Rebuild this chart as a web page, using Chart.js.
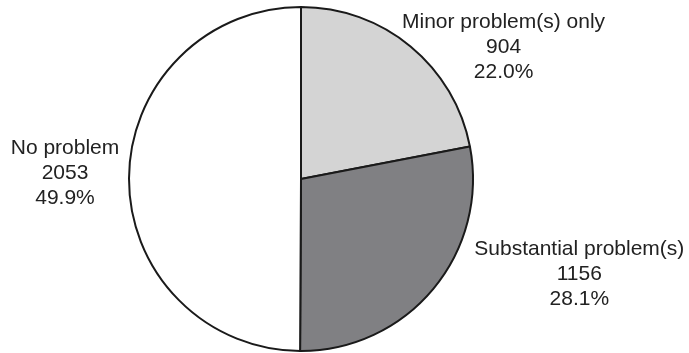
<!DOCTYPE html>
<html>
<head>
<meta charset="utf-8">
<script src="https://cdn.jsdelivr.net/npm/chart.js@4/dist/chart.umd.min.js"></script>
<style>
  html, body { margin: 0; padding: 0; background: #ffffff; }
  #wrap { width: 689px; height: 353px; position: relative; }
</style>
</head>
<body>
<div id="wrap"><canvas id="pie-chart"></canvas></div>
<script>
const categories = ['Minor problem(s) only', 'Substantial problem(s)', 'No problem'];
const counts = [904, 1156, 2053];
const sliceColors = ['#d4d4d4', '#808083', '#ffffff'];

// where each label block sits, relative to the slice's outer edge at its mid angle
const labelOffsets = [[93, 1], [146, -15], [-64, -5]];

const total = counts.reduce((a, b) => a + b, 0);

const pieLabels = {
    id: 'pieLabels',
    afterDatasetsDraw(chart) {
        const c = chart.ctx;
        const meta = chart.getDatasetMeta(0);
        c.save();
        c.font = '21px "Liberation Sans", Arial, sans-serif';
        c.fillStyle = '#222222';
        c.textAlign = 'center';
        c.textBaseline = 'middle';
        meta.data.forEach((arc, i) => {
            const p = arc.getProps(['x', 'y', 'startAngle', 'endAngle', 'outerRadius'], true);
            const mid = (p.startAngle + p.endAngle) / 2;
            const ex = p.x + Math.cos(mid) * p.outerRadius;
            const ey = p.y + Math.sin(mid) * p.outerRadius;
            const cx = ex + labelOffsets[i][0];
            const cy = ey + labelOffsets[i][1];
            const lines = [categories[i], String(counts[i]), (counts[i] / total * 100).toFixed(1) + '%'];
            lines.forEach((t, k) => c.fillText(t, cx, cy + (k - 1) * 25));
        });
        c.restore();
    }
};

new Chart(document.getElementById('pie-chart').getContext('2d'), {
    type: 'pie',
    data: {
        labels: categories,
        datasets: [{
            data: counts,
            backgroundColor: sliceColors,
            borderColor: '#1a1a1a',
            borderWidth: 2
        }]
    },
    options: {
        responsive: true,
        maintainAspectRatio: false,
        animation: false,
        layout: { padding: { left: 128, right: 215, top: 6, bottom: 1 } },
        plugins: {
            legend: { display: false },
            tooltip: { enabled: false }
        }
    },
    plugins: [pieLabels]
});
</script>
</body>
</html>
